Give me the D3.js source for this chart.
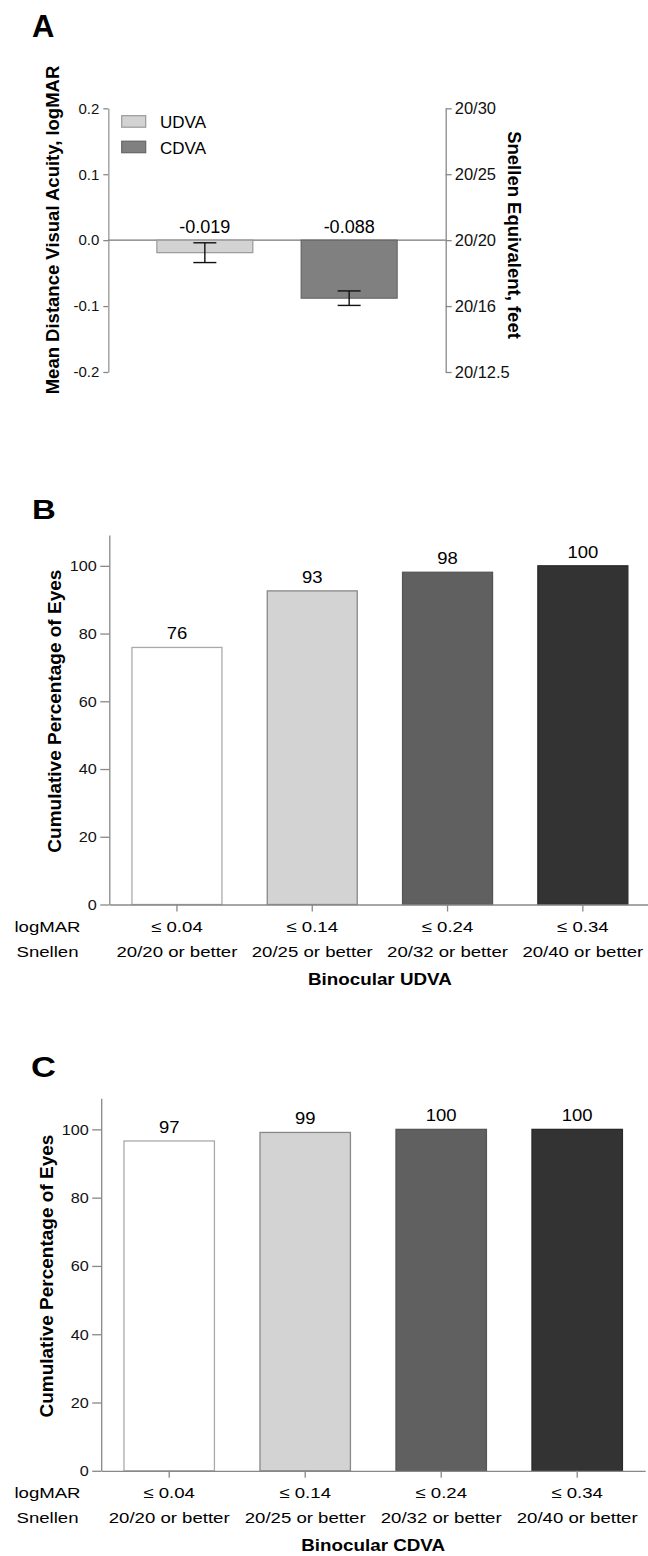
<!DOCTYPE html>
<html>
<head>
<meta charset="utf-8">
<script src="https://cdn.jsdelivr.net/npm/d3@7"></script>
<style>
  body { margin: 0; background: #fff; }
  svg { display: block; font-family: "Liberation Sans", Arial, sans-serif; }
  .domain, .tick line { stroke: #888; stroke-width: 1.3px; }
</style>
</head>
<body>
<div id="chart"></div>
<script>
// ---- data ----
const measures = ["UDVA", "CDVA"];
const meanLogmar = [-0.019, -0.088];
const errLow = [-0.034, -0.099];
const errHigh = [-0.004, -0.077];
const logmarTicks = [0.2, 0.1, 0.0, -0.1, -0.2];
const snellenTicks = ["20/30", "20/25", "20/20", "20/16", "20/12.5"];

const thresholdLogmar = ["≤ 0.04", "≤ 0.14", "≤ 0.24", "≤ 0.34"];
const thresholdSnellen = ["20/20 or better", "20/25 or better", "20/32 or better", "20/40 or better"];
const udvaCumulative = [75.9, 92.6, 98.1, 100];
const cdvaCumulative = [96.6, 99.1, 100, 100];
const percentTicks = [0, 20, 40, 60, 80, 100];

const measureFill = ["#d3d3d3", "#808080"];
const measureStroke = ["#999", "#666"];
const barFill = ["#ffffff", "#d3d3d3", "#606060", "#333333"];
const barStroke = ["#aaa", "#888", "#555", "#2a2a2a"];

const svg = d3.select("#chart").append("svg")
    .attr("width", 648)
    .attr("height", 1556);

// the B and C panels use slightly wide lettering, so scale text in x about its anchor
function stretch(sel, sx) {
    sel.each(function () {
        const t = d3.select(this);
        const x = +t.attr("x") || 0;
        t.attr("transform", `translate(${x * (1 - sx)},0) scale(${sx},1)`);
    });
}

// d3 axes put font attributes on their group; replace them with ours
function axisFont(g, size) {
    g.attr("font-size", size).attr("font-family", "Liberation Sans, Arial, sans-serif");
    g.selectAll("text").attr("font-size", size).attr("fill", "#111");
}

// panel letters
[["A", 32, 37, 31, 1], ["B", 32, 519, 27, 1.22], ["C", 31, 1077, 30, 1.15]].forEach(([t, x, y, fs, sx]) => {
    svg.append("text").attr("x", x).attr("y", y)
        .style("font-size", fs + "px").style("font-weight", "bold").text(t)
        .call(stretch, sx);
});

// ---------- Panel A ----------
(function () {
    const left = 108.3, right = 445.7;
    const y = d3.scaleLinear().domain([-0.2, 0.2]).range([372, 108.3]);
    const x = d3.scaleBand().domain(measures).range([left, right])
        .paddingInner(0.335).paddingOuter(0.3365);

    const g = svg.append("g");

    // left axis
    const la = g.append("g").attr("transform", `translate(${left},0)`)
        .call(d3.axisLeft(y).tickValues(logmarTicks).tickSize(5).tickSizeOuter(0).tickPadding(4)
            .tickFormat(d => d.toFixed(1)));
    axisFont(la, 15);
    la.select(".domain").style("stroke", "#aaa").style("stroke-width", "1.6px");

    // right axis (Snellen)
    const ra = g.append("g").attr("transform", `translate(${right},0)`)
        .call(d3.axisRight(y).tickValues(logmarTicks).tickSize(6).tickSizeOuter(0).tickPadding(3)
            .tickFormat((d, i) => snellenTicks[i]));
    axisFont(ra, 16.5);

    // zero line
    g.append("line")
        .attr("x1", left).attr("x2", right)
        .attr("y1", y(0)).attr("y2", y(0))
        .style("stroke", "#777").style("stroke-width", 1.2);

    // bars
    g.selectAll(".barA").data(measures).enter().append("rect")
        .attr("class", "barA")
        .attr("x", d => x(d))
        .attr("width", x.bandwidth())
        .attr("y", y(0))
        .attr("height", (d, i) => y(meanLogmar[i]) - y(0))
        .style("fill", (d, i) => measureFill[i])
        .style("stroke", (d, i) => measureStroke[i])
        .style("stroke-width", 1.2);

    // error bars
    measures.forEach((d, i) => {
        const cx = x(d) + x.bandwidth() / 2;
        const eb = g.append("g").style("stroke", "#111").style("stroke-width", 1.4);
        eb.append("line").attr("x1", cx).attr("x2", cx).attr("y1", y(errHigh[i])).attr("y2", y(errLow[i]));
        eb.append("line").attr("x1", cx - 11.5).attr("x2", cx + 11.5).attr("y1", y(errHigh[i])).attr("y2", y(errHigh[i]));
        eb.append("line").attr("x1", cx - 11.5).attr("x2", cx + 11.5).attr("y1", y(errLow[i])).attr("y2", y(errLow[i]));
    });

    // value labels
    g.selectAll(".valA").data(measures).enter().append("text")
        .attr("x", d => x(d) + x.bandwidth() / 2)
        .attr("y", y(0) - 7.5)
        .attr("text-anchor", "middle")
        .style("font-size", "18px")
        .text((d, i) => meanLogmar[i].toFixed(3));

    // legend
    measures.forEach((d, i) => {
        const ly = 115.7 + i * 25.5;
        g.append("rect").attr("x", 121.7).attr("y", ly).attr("width", 24).attr("height", 11.5)
            .style("fill", measureFill[i]).style("stroke", measureStroke[i]).style("stroke-width", 1.2);
        g.append("text").attr("x", 160).attr("y", ly + 12.6)
            .style("font-size", "17px").text(d);
    });

    // axis titles
    g.append("text")
        .attr("transform", `translate(59,230) rotate(-90)`)
        .attr("text-anchor", "middle")
        .style("font-size", "18.5px").style("font-weight", "bold")
        .text("Mean Distance Visual Acuity, logMAR");
    g.append("text")
        .attr("transform", `translate(508,235) rotate(90)`)
        .attr("text-anchor", "middle")
        .style("font-size", "18.5px").style("font-weight", "bold")
        .text("Snellen Equivalent, feet");
})();

// ---------- Panels B and C ----------
function drawCumulative(values, title, axisX, rightX, y0, yTop) {
    const y = d3.scaleLinear().domain([0, 109.1]).range([y0, yTop]);
    const x = d3.scaleBand().domain(thresholdLogmar).range([axisX, rightX])
        .paddingInner(0.335).paddingOuter(0.1675);

    const g = svg.append("g");

    // bars
    g.selectAll(".bar").data(thresholdLogmar).enter().append("rect")
        .attr("x", d => x(d))
        .attr("width", x.bandwidth())
        .attr("y", (d, i) => y(values[i]))
        .attr("height", (d, i) => y0 - y(values[i]))
        .style("fill", (d, i) => barFill[i])
        .style("stroke", (d, i) => barStroke[i])
        .style("stroke-width", 1.3);

    // value labels
    g.selectAll(".val").data(thresholdLogmar).enter().append("text")
        .attr("x", d => x(d) + x.bandwidth() / 2)
        .attr("y", (d, i) => y(values[i]) - 8)
        .attr("text-anchor", "middle")
        .style("font-size", "16.5px")
        .text((d, i) => d3.format(".0f")(values[i]))
        .call(stretch, 1.12);

    // y axis
    const ya = g.append("g").attr("transform", `translate(${axisX},0)`)
        .call(d3.axisLeft(y).tickValues(percentTicks).tickSize(9).tickSizeOuter(0).tickPadding(3.5));
    axisFont(ya, 15);
    ya.selectAll("text").call(stretch, 1.08);

    // x axis
    g.append("g").attr("transform", `translate(0,${y0})`)
        .call(d3.axisBottom(x).tickSize(7).tickSizeOuter(0).tickFormat(""));

    // category labels (two rows)
    const rows = g.append("g").style("font-size", "15.5px");
    thresholdLogmar.forEach((d, i) => {
        const cx = x(d) + x.bandwidth() / 2;
        rows.append("text").attr("x", cx).attr("y", y0 + 27.2)
            .attr("text-anchor", "middle").text(d);
        rows.append("text").attr("x", cx).attr("y", y0 + 52.2)
            .attr("text-anchor", "middle").text(thresholdSnellen[i]);
    });
    rows.append("text").attr("x", 47.5).attr("y", y0 + 27.2)
        .attr("text-anchor", "middle").text("logMAR");
    rows.append("text").attr("x", 47.5).attr("y", y0 + 52.2)
        .attr("text-anchor", "middle").text("Snellen");
    rows.selectAll("text").call(stretch, 1.2);

    // titles
    g.append("text").attr("x", (axisX + rightX) / 2).attr("y", y0 + 80.7)
        .attr("text-anchor", "middle")
        .style("font-size", "16.5px").style("font-weight", "bold")
        .text(title)
        .call(stretch, 1.14);
    g.append("text")
        .attr("transform", `translate(${axisX - 48},${(y(100) + y0) / 2 - 24}) rotate(-90)`)
        .attr("text-anchor", "middle")
        .style("font-size", "19px").style("font-weight", "bold")
        .text("Cumulative Percentage of Eyes");
}

drawCumulative(udvaCumulative, "Binocular UDVA", 109.3, 650.5, 904.5, 535);
drawCumulative(cdvaCumulative, "Binocular CDVA", 101.2, 645.2, 1470.8, 1098.3);
</script>
</body>
</html>
